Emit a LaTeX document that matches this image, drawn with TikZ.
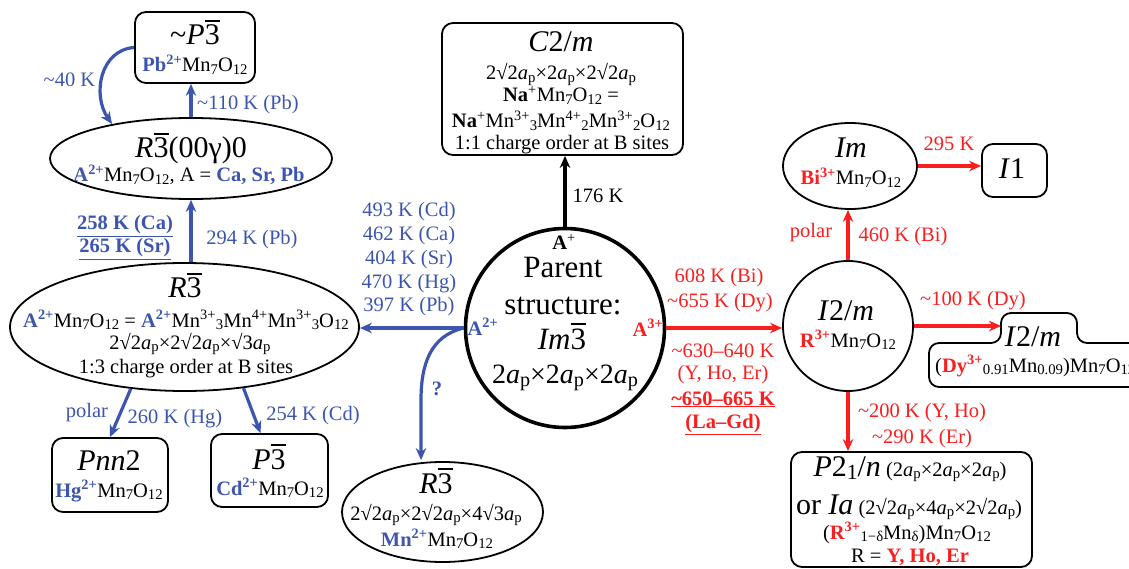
\documentclass[tikz,border=0pt]{standalone}
\usepackage{fontspec}
\setmainfont{Liberation Serif}
\usetikzlibrary{shapes.geometric,arrows.meta,calc}
\definecolor{myblue}{RGB}{61,85,174}
\definecolor{myred}{RGB}{250,30,30}
\makeatletter
\newcommand\sbs[1]{{\@tempdima=\f@size pt\relax\@tempdima=0.72\@tempdima\edef\sbsz{\strip@pt\@tempdima}\raisebox{-0.13em}{\fontsize{\sbsz}{0}\selectfont #1}}}
\makeatother
\newcommand\ap{\textit{a}\sbs{p}}
\newcommand\bthree{\makebox[0pt][l]{\rule[0.78em]{0.5em}{0.055em}}3}
\newcommand\mno{Mn\sbs{7}O\sbs{12}}
\newcommand\Bb[1]{\textcolor{myblue}{\textbf{#1}}}
\newcommand\Rr[1]{\textcolor{myred}{\textbf{#1}}}
\newcommand\tld{\textasciitilde}
\newcommand\hsz{\fontsize{30}{34}\selectfont}
\newcommand\bsz{\fontsize{20.5}{24}\selectfont}
\newcommand\psz{\fontsize{31}{36}\selectfont}
\newcommand\msz{\fontsize{28}{32}\selectfont}
\tikzset{
 txt/.style={inner sep=0pt, anchor=base, font=\bsz},
 hd/.style={inner sep=0pt, anchor=base, font=\hsz},
 pt/.style={inner sep=0pt, anchor=base, font=\psz},
 rbox/.style={draw, line width=1.8pt, rounded corners=11pt, inner sep=0pt},
 ell/.style={draw, ellipse, line width=1.8pt, inner sep=0pt},
 circ/.style={draw, circle, line width=1.8pt, inner sep=0pt},
 barr/.style={draw=myblue, line width=3.2pt, -{Stealth[length=12pt,width=10.5pt]}},
 rarr/.style={draw=myred, line width=3.2pt, -{Stealth[length=12pt,width=10.5pt]}},
 karr/.style={draw=black, line width=3.4pt, -{Stealth[length=12pt,width=10.5pt]}},
 bl/.style={text=myblue}, rd/.style={text=myred}
}
\begin{document}
\begin{tikzpicture}[x=1pt,y=-1pt]
\path[fill=white,use as bounding box] (0,0) rectangle (1129,569);

% ---------- shapes ----------
\node[rbox, minimum width=120pt, minimum height=71pt] (pbox) at (195,47.5) {};
\node[ell, minimum width=282pt, minimum height=81pt] (e1) at (191,158.5) {};
\node[ell, minimum width=349pt, minimum height=128pt] (e2) at (184.5,327) {};
\node[rbox, minimum width=116pt, minimum height=74pt] (pnn) at (110,475) {};
\node[rbox, minimum width=117pt, minimum height=73pt] (p3b) at (269.5,470.5) {};
\node[ell, minimum width=201pt, minimum height=100pt] (e3) at (442.5,512) {};
\node[circ, line width=3.6pt, minimum size=199pt] (pc) at (565,328) {};
\node[rbox, minimum width=241pt, minimum height=132pt] (c2m) at (562.5,89) {};
\node[circ, minimum size=130pt] (i2m) at (848,326) {};
\node[ell, minimum width=134pt, minimum height=86pt] (im) at (850,166) {};
\node[rbox, minimum width=65pt, minimum height=53pt] (i1) at (1014.5,170.5) {};
\node[rbox, minimum width=241pt, minimum height=115pt] (p21) at (911.5,509.5) {};
\draw[line width=1.8pt, rounded corners=10pt] (929,387) -- (929,343) -- (1001,343) -- (1001,313) -- (1077,313) -- (1077,343) -- (1160,343) -- (1160,387) -- cycle;
\coordinate (tabL) at (1001,326);

% ---------- texts ----------
\node[hd] (t1) at (195,45) {\tld\textit{P}\bthree};
\node[txt] (t2) at (195,72) {\Bb{Pb\textsuperscript{2+}}\mno};
\node[hd] (t3) at (191,158) {\textit{R}\bthree(00γ)0};
\node[txt] (t4) at (189,182) {\Bb{A\textsuperscript{2+}}\mno, A = \Bb{Ca, Sr, Pb}};
\node[hd] (t5) at (185,298) {\textit{R}\bthree};
\node[txt] (t6) at (186,327) {\Bb{A\textsuperscript{2+}}\mno{} = \Bb{A\textsuperscript{2+}}Mn\textsuperscript{3+}\sbs{3}Mn\textsuperscript{4+}Mn\textsuperscript{3+}\sbs{3}O\sbs{12}};
\node[txt] (t7) at (190,349) {2√2\ap×2√2\ap×√3\ap};
\node[txt] (t8) at (186,373) {1:3 charge order at B sites};
\node[hd] (t9) at (109,470) {\textit{Pnn}2};
\node[txt] (t10) at (109,497) {\Bb{Hg\textsuperscript{2+}}\mno};
\node[hd] (t11) at (269,469) {\textit{P}\bthree};
\node[txt] (t12) at (270,495) {\Bb{Cd\textsuperscript{2+}}\mno};
\node[hd] (t13) at (436,493) {\textit{R}\bthree};
\node[txt] (t14) at (436,520) {2√2\ap×2√2\ap×4√3\ap};
\node[txt] (t15) at (437,546) {\Bb{Mn\textsuperscript{2+}}\mno};
\node[txt] (t16) at (564,250) {\textbf{A}\textsuperscript{+}};
\node[pt] (t17) at (563,277) {Parent};
\node[pt] (t18) at (563,314) {structure:};
\node[pt] (t19) at (562,349) {\textit{Im}\bthree};
\node[txt, font=\msz] (t20) at (565,383) {2\ap×2\ap×2\ap};
\node[txt] (t21) at (483,335) {\Bb{A\textsuperscript{2+}}};
\node[txt] (t22) at (648,336) {\Rr{A\textsuperscript{3+}}};
\node[hd] (t23) at (561,52) {\textit{C}2/\textit{m}};
\node[txt] (t24) at (561,80) {2√2\ap×2\ap×2√2\ap};
\node[txt] (t25) at (561,102) {\textbf{Na}\textsuperscript{+}\mno{} =};
\node[txt] (t26) at (561,128) {\textbf{Na}\textsuperscript{+}Mn\textsuperscript{3+}\sbs{3}Mn\textsuperscript{4+}\sbs{2}Mn\textsuperscript{3+}\sbs{2}O\sbs{12}};
\node[txt] (t27) at (562,150) {1:1 charge order at B sites};
\node[hd] (t28) at (846,320) {\textit{I}2/\textit{m}};
\node[txt] (t29) at (848,347) {\Rr{R\textsuperscript{3+}}\mno};
\node[hd] (t30) at (851,158) {\textit{Im}};
\node[txt] (t31) at (851,185) {\Rr{Bi\textsuperscript{3+}}\mno};
\node[hd] (t32) at (1012,179) {\textit{I}1};
\node[hd] (t33) at (1033,346) {\textit{I}2/\textit{m}};
\node[txt, anchor=base west] (t34) at (935,372) {(\Rr{Dy\textsuperscript{3+}}\sbs{0.91}Mn\sbs{0.09})\mno};
\node[txt] (t35) at (910,476) {{\hsz\textit{P}2\sbs{1}/\textit{n}} (2\ap×2\ap×2\ap)};
\node[txt] (t36) at (909,514) {{\hsz or \textit{Ia}} (2√2\ap×4\ap×2√2\ap)};
\node[txt] (t37) at (907,539) {(\Rr{R\textsuperscript{3+}}\sbs{1−δ}Mn\sbs{δ})\mno};
\node[txt] (t38) at (910,562) {R = \Rr{Y, Ho, Er}};

% ---------- connectors ----------
\draw[barr] (e1.north) -- (e1.north |- pbox.south);
\node[txt, bl, anchor=base west] (l1) at (197,110) {\tld110 K (Pb)};
\coordinate (c40) at (112,124);
\draw[barr] (pbox.west) .. controls (100,50) and (92,95) .. (c40);
\node[txt, bl] (l2) at (69.5,87) {\tld40 K};
\draw[barr] (e2.north -| e1.south) -- (e1.south);
\node[txt, bl] (l3) at (125,230) {\underline{\textbf{258 K (Ca)}}};
\node[txt, bl] (l4) at (125,253) {\underline{\textbf{265 K (Sr)}}};
\node[txt, bl] (l5) at (252,245) {294 K (Pb)};
\draw[barr] (e2.229) -- (pnn.north);
\draw[barr] (e2.-46) -- ($(p3b.north)+(-9,0)$);
\node[txt, bl] (l6) at (87,417) {polar};
\node[txt, bl] (l7) at (175,423) {260 K (Hg)};
\node[txt, bl] (l8) at (313,420) {254 K (Cd)};
\draw[barr] (pc.west) -- (pc.west -| e2.east);
\node[txt, bl] (l9) at (409,217) {493 K (Cd)};
\node[txt, bl] (l10) at (409,241) {462 K (Ca)};
\node[txt, bl] (l11) at (409,264.5) {404 K (Sr)};
\node[txt, bl] (l12) at (409,288) {470 K (Hg)};
\node[txt, bl] (l13) at (409,311) {397 K (Pb)};
\draw[barr] (pc.west) .. controls (430,336) and (421,365) .. (421,400) -- ($(e3.north)+(-21.5,-1)$);
\node[txt, bl] (l14) at (437,395) {\textbf{?}};
\draw[karr] (pc.north) -- (pc.north |- c2m.south);
\node[txt] (l15) at (598,203) {176 K};
\draw[rarr] (pc.east) -- (pc.east -| i2m.west);
\node[txt, rd] (l16) at (719,282) {608 K (Bi)};
\node[txt, rd] (l17) at (720,307) {\tld655 K (Dy)};
\node[txt, rd] (l18) at (723,357) {\tld630–640 K};
\node[txt, rd] (l19) at (723,379) {(Y, Ho, Er)};
\node[txt, rd] (l20) at (723,405) {\underline{\textbf{\tld650–665 K}}};
\node[txt, rd] (l21) at (723,428) {\underline{\textbf{(La–Gd)}}};
\draw[rarr] (i2m.north) -- (i2m.north |- im.south);
\node[txt, rd] (l22) at (811,238) {polar};
\node[txt, rd] (l23) at (903,242) {460 K (Bi)};
\draw[rarr] (im.east) -- (im.east -| i1.west);
\node[txt, rd] (l24) at (949,151) {295 K};
\draw[rarr] (i2m.east) -- (tabL);
\node[txt, rd] (l25) at (973,305) {\tld100 K (Dy)};
\draw[rarr] (i2m.south) -- (i2m.south |- p21.north);
\node[txt, rd] (l26) at (922,417) {\tld200 K (Y, Ho)};
\node[txt, rd] (l27) at (922,443) {\tld290 K (Er)};
\end{tikzpicture}
\end{document}
